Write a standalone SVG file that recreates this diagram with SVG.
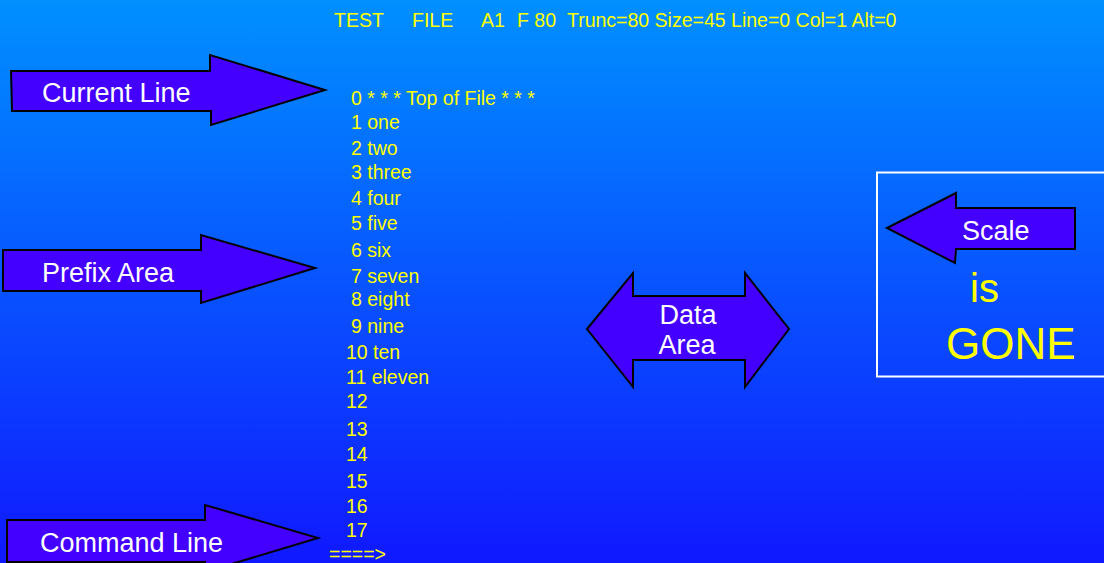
<svg xmlns="http://www.w3.org/2000/svg" width="1104" height="563" viewBox="0 0 1104 563">
  <defs>
    <linearGradient id="bg" x1="0" y1="0" x2="0" y2="1">
      <stop offset="0" stop-color="#0090ff"/>
      <stop offset="1" stop-color="#1018ff"/>
    </linearGradient>
  </defs>
  <style>
    .arrow { fill: #4400ff; stroke: #000; stroke-width: 2; stroke-linejoin: miter; }
    .lbl { font-family: "Liberation Sans", Arial, sans-serif; fill: #ffffff; font-size: 27px; }
    .yel { font-family: "Liberation Sans", Arial, sans-serif; fill: #ffff00; }
    .line { font-size: 19.5px; }
    .hdr { font-size: 19.5px; }
  </style>
  <rect x="0" y="0" width="1104" height="563" fill="url(#bg)"/>

  <g id="header" class="yel hdr">
    <text x="334" y="27">TEST</text>
    <text x="412" y="27">FILE</text>
    <text x="481" y="27">A1</text>
    <text x="517" y="27">F 80</text>
    <text x="567" y="27">Trunc=80 Size=45 Line=0 Col=1 Alt=0</text>
  </g>

  <g id="file-lines" class="yel line">
    <text x="351" y="105">0 * * * Top of File * * *</text>
    <text x="351" y="129">1 one</text>
    <text x="351" y="155">2 two</text>
    <text x="351" y="179">3 three</text>
    <text x="351" y="205">4 four</text>
    <text x="351" y="230">5 five</text>
    <text x="351" y="257">6 six</text>
    <text x="351" y="283">7 seven</text>
    <text x="351" y="306">8 eight</text>
    <text x="351" y="333">9 nine</text>
    <text x="346" y="359">10 ten</text>
    <text x="346" y="384">11 eleven</text>
    <text x="346" y="408">12</text>
    <text x="346" y="436">13</text>
    <text x="346" y="461">14</text>
    <text x="346" y="488">15</text>
    <text x="346" y="513">16</text>
    <text x="346" y="537">17</text>
    <text x="329" y="561">====&gt;</text>
  </g>

  <g id="current-line">
    <polygon class="arrow" points="11,71 210,71 210,55 325,90 211,125 211,111 12,111"/>
    <text class="lbl" x="42" y="102">Current Line</text>
  </g>

  <g id="prefix-area">
    <polygon class="arrow" points="3,250 201,250 201,235 315,268 201,303 201,291 3,291"/>
    <text class="lbl" x="42" y="282">Prefix Area</text>
  </g>

  <g id="command-line">
    <polygon class="arrow" points="7,520 205,520 205,505 318,538 205,572 205,562 7,562"/>
    <text class="lbl" x="40" y="552" font-size="27.7">Command Line</text>
  </g>

  <g id="data-area">
    <polygon class="arrow" points="587,329 633,273 633,296 745,296 745,273 789,329 745,387 745,360 633,360 633,387"/>
    <text class="lbl" x="688" y="324" text-anchor="middle">Data</text>
    <text class="lbl" x="687" y="354" text-anchor="middle">Area</text>
  </g>

  <g id="scale-box">
    <rect x="877" y="172.5" width="240" height="204" fill="none" stroke="#ffffff" stroke-width="2"/>
    <polygon class="arrow" points="887,228 956,193 956,208 1075,208 1075,249 956,249 955,263"/>
    <text class="lbl" x="962" y="240">Scale</text>
    <text class="yel" x="970" y="302" font-size="40">is</text>
    <text class="yel" x="946" y="359" font-size="44">GONE</text>
  </g>

  <g id="connectors"/>
</svg>
